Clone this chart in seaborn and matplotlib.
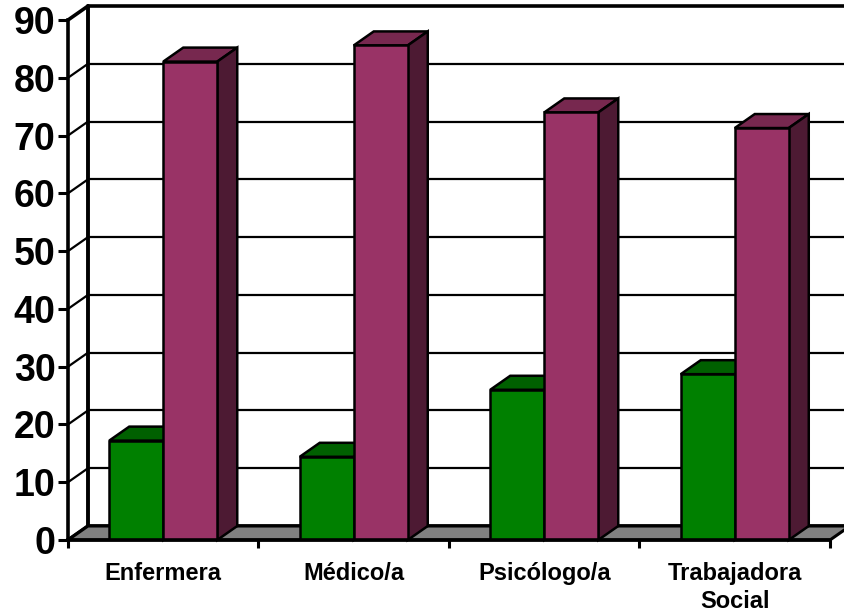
#!/usr/bin/env python
"""
3D-style grouped bar chart (Excel look) by profession.
"""

import matplotlib
matplotlib.use('Agg')
import matplotlib.pyplot as plt
from matplotlib.patches import Polygon
import seaborn as sns
import pandas as pd

categories = ['Enfermera', 'Médico/a', 'Psicólogo/a', 'Trabajadora\nSocial']
serie_a = [17.2, 14.4, 26.0, 28.7]   # green
serie_b = [82.8, 85.6, 74.0, 71.3]   # purple
series_names = ['A', 'B']
y_ticks = list(range(0, 100, 10))

front_colors = {'A': '#008000', 'B': '#993366'}
top_colors = {'A': '#006000', 'B': '#77284F'}
side_colors = {'A': '#004d00', 'B': '#4D1A33'}


def main():
    df = pd.DataFrame({
        'Categoria': categories * 2,
        'Valor': serie_a + serie_b,
        'Serie': [series_names[0]] * len(categories) + [series_names[1]] * len(categories),
    })

    sns.set_style('white')
    plt.rcParams['font.family'] = ['Liberation Sans', 'DejaVu Sans']
    plt.rcParams['text.color'] = 'black'
    plt.rcParams['xtick.color'] = 'black'
    plt.rcParams['ytick.color'] = 'black'
    plt.rcParams['xtick.labelcolor'] = 'black'
    plt.rcParams['ytick.labelcolor'] = 'black'

    fig = plt.figure(figsize=(8.45, 6.14), dpi=100)
    ax = fig.add_axes([68 / 845, 1 - 540 / 614, 762 / 845, 520 / 614])

    sns.barplot(data=df, x='Categoria', y='Valor', hue='Serie', palette=front_colors,
                saturation=1, width=0.567, edgecolor='black', linewidth=1.8,
                legend=False, ax=ax, zorder=3)

    n = len(categories)
    ax.set_xlim(-0.5, n - 0.5)
    ax.set_ylim(0, 90)

    # depth of the fake 3D: 20 px right, 14 px up
    ddx = 20 / (762 / n)
    ddy = 14 / (520 / 90)

    # back wall and side wall grid
    for v in y_ticks:
        lw = 2.6 if v in (0, 90) else 1.6
        ax.plot([-0.5 + ddx, n - 0.5 + ddx], [v + ddy, v + ddy], color='black',
                lw=lw, clip_on=False, zorder=0.5)
        ax.plot([-0.5, -0.5 + ddx], [v, v + ddy], color='black', lw=lw,
                clip_on=False, zorder=0.5)
    ax.plot([-0.5 + ddx, -0.5 + ddx], [ddy, 90 + ddy], color='black', lw=2.8,
            clip_on=False, zorder=0.6)

    # floor
    floor = Polygon([(-0.5, 0), (n - 0.5, 0), (n - 0.5 + ddx, ddy), (-0.5 + ddx, ddy)],
                    closed=True, facecolor='#808080', edgecolor='black', lw=2.2,
                    clip_on=False, zorder=1)
    ax.add_patch(floor)

    # tops and sides for each bar
    hue_order = [series_names[0]] * n + [series_names[1]] * n
    bars = [p for p in ax.patches if p is not floor]
    for p, s in zip(bars, hue_order):
        x0 = p.get_x()
        w = p.get_width()
        h = p.get_height()
        top = Polygon([(x0, h), (x0 + w, h), (x0 + w + ddx, h + ddy), (x0 + ddx, h + ddy)],
                      closed=True, facecolor=top_colors[s], edgecolor='black', lw=1.8,
                      clip_on=False, zorder=2)
        side = Polygon([(x0 + w, 0), (x0 + w + ddx, ddy), (x0 + w + ddx, h + ddy), (x0 + w, h)],
                       closed=True, facecolor=side_colors[s], edgecolor='black', lw=1.8,
                       clip_on=False, zorder=2)
        ax.add_patch(top)
        ax.add_patch(side)

    # axes
    sns.despine(ax=ax, top=True, right=True)
    ax.spines['left'].set_linewidth(2.6)
    ax.spines['bottom'].set_linewidth(2.6)
    ax.spines['left'].set_color('black')
    ax.spines['bottom'].set_color('black')
    ax.spines['left'].set_zorder(4)
    ax.spines['bottom'].set_zorder(4)

    ax.set_yticks(y_ticks)
    ax.set_yticklabels([str(v) for v in y_ticks], fontsize=27, fontweight='bold')
    ax.tick_params(axis='y', direction='out', length=7, width=2.2, pad=2, left=True)

    ax.set_xticks([i - 0.5 for i in range(n + 1)])
    ax.set_xticklabels([''] * (n + 1))
    ax.tick_params(axis='x', which='major', direction='out', length=6, width=2.2, bottom=True)
    ax.set_xticks(range(n), minor=True)
    ax.set_xticklabels(categories, minor=True, fontsize=17, fontweight='bold',
                       linespacing=1.25)
    ax.tick_params(axis='x', which='minor', length=0, pad=16)

    ax.set_xlabel('')
    ax.set_ylabel('')
    ax.grid(False)

    plt.savefig('out.png', dpi=100)
    plt.close()


if __name__ == '__main__':
    main()
